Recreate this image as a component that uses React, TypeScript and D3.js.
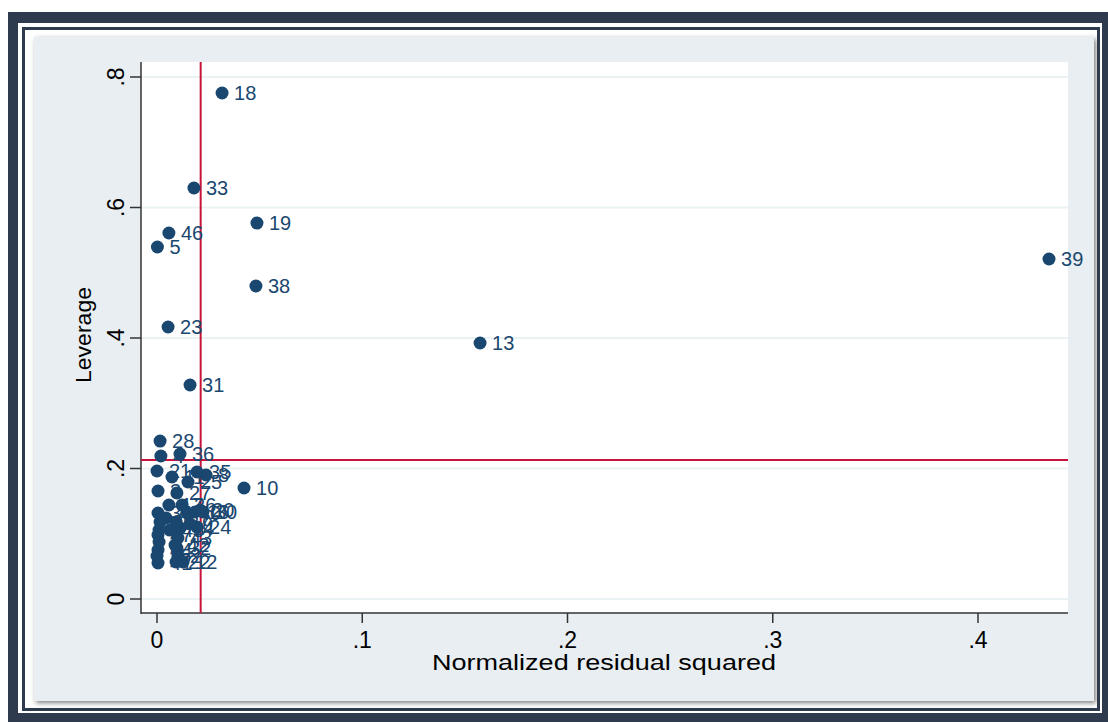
import React, { useEffect, useRef } from 'react';
import * as d3 from 'd3';

// observation numbers, normalized residual squared, leverage
const ids = [18, 33, 19, 46, 5, 39, 38, 23, 13, 31, 28, 10, 8,
  1, 2, 3, 4, 6, 7, 9, 11, 12, 14, 15, 16, 17, 20, 21, 22, 24, 25, 26, 27,
  29, 30, 32, 34, 35, 36, 37, 40, 41, 42, 43, 44, 45, 47];
const residSq = [0.0317, 0.0180, 0.0487, 0.0058, 0.0002, 0.4346, 0.0482, 0.0054, 0.1574, 0.0161, 0.0015, 0.0424, 0.0239,
  0.0010, 0.0102, 0.0005, 0.0019, 0.0044, 0.0010, 0.0161, 0.0073, 0.0127, 0.0112, 0.0000, 0.0185, 0.0058, 0.0210, 0.0000, 0.0093, 0.0195, 0.0151, 0.0122, 0.0097,
  0.0015, 0.0224, 0.0097, 0.0005, 0.0195, 0.0112, 0.0093, 0.0146, 0.0005, 0.0088, 0.0102, 0.0005, 0.0063, 0.0005];
const leverage = [0.7755, 0.6299, 0.5762, 0.5609, 0.5395, 0.5211, 0.4797, 0.4169, 0.3923, 0.3280, 0.2421, 0.1701, 0.1900,
  0.0874, 0.0659, 0.1655, 0.2192, 0.1241, 0.1057, 0.1149, 0.1870, 0.0567, 0.1088, 0.0659, 0.1333, 0.1441, 0.1364, 0.1962, 0.0567, 0.1103, 0.1793, 0.1441, 0.1625,
  0.1180, 0.1333, 0.0782, 0.1318, 0.1946, 0.2222, 0.1180, 0.1318, 0.0552, 0.0828, 0.0935, 0.0751, 0.1057, 0.0981];

const xTicks = [0, 0.1, 0.2, 0.3, 0.4];
const xTickLabels = ['0', '.1', '.2', '.3', '.4'];
const yTicks = [0, 0.2, 0.4, 0.6, 0.8];
const yTickLabels = ['0', '.2', '.4', '.6', '.8'];

const meanResid = 1 / 47;
const meanLev = 0.213;

export default function App() {
  const ref = useRef<SVGSVGElement>(null);

  useEffect(() => {
    const svg = d3.select(ref.current);
    svg.selectAll('*').remove();
    const W = 1108, H = 722;
    const navy = '#1a476f';
    const font = 'Liberation Sans, Arial, sans-serif';

    // frame
    svg.append('rect').attr('x', 8).attr('y', 12).attr('width', W - 8).attr('height', H - 12).attr('fill', '#2e3a4e');
    svg.append('rect').attr('x', 18).attr('y', 23).attr('width', 1084).attr('height', 690).attr('fill', '#fff');
    svg.append('rect').attr('x', 23.5).attr('y', 28.5).attr('width', 1075).attr('height', 681)
      .attr('fill', 'none').attr('stroke', '#2e3a4e').attr('stroke-width', 3);
    const defs = svg.append('defs');
    const f = defs.append('filter').attr('id', 'sh').attr('x', '-5%').attr('y', '-5%').attr('width', '110%').attr('height', '110%');
    f.append('feDropShadow').attr('dx', 2).attr('dy', 2).attr('stdDeviation', 2.5).attr('flood-color', '#444').attr('flood-opacity', 0.7);
    svg.append('rect').attr('x', 34).attr('y', 37).attr('width', 1060).attr('height', 664)
      .attr('fill', '#e8eef1').attr('filter', 'url(#sh)');

    const left = 141, right = 1068, top = 62, bottom = 613;
    const x = d3.scaleLinear().domain([0, 0.4]).range([157, 978]);
    const y = d3.scaleLinear().domain([0, 0.8]).range([599, 77]);

    svg.append('rect').attr('x', left).attr('y', top).attr('width', right - left).attr('height', bottom - top).attr('fill', '#fff');

    // gridlines
    svg.append('g').selectAll('line').data(yTicks).join('line')
      .attr('x1', left).attr('x2', right)
      .attr('y1', d => y(d)).attr('y2', d => y(d))
      .attr('stroke', '#eaf2f3').attr('stroke-width', 2);

    // axes
    svg.append('line').attr('x1', left).attr('x2', left).attr('y1', top).attr('y2', bottom + 1)
      .attr('stroke', '#333').attr('stroke-width', 1.5);
    svg.append('line').attr('x1', left).attr('x2', right).attr('y1', bottom).attr('y2', bottom)
      .attr('stroke', '#333').attr('stroke-width', 1.5);

    svg.append('g').selectAll('line').data(yTicks).join('line')
      .attr('x1', left - 11).attr('x2', left).attr('y1', d => y(d)).attr('y2', d => y(d))
      .attr('stroke', '#333').attr('stroke-width', 1.5);
    svg.append('g').selectAll('text').data(yTicks).join('text')
      .attr('transform', d => `translate(${left - 25},${y(d)}) rotate(-90)`)
      .attr('text-anchor', 'middle').attr('dy', '0.35em')
      .attr('font-family', font).attr('font-size', 23).attr('fill', '#000')
      .text((d, i) => yTickLabels[i]);

    svg.append('g').selectAll('line').data(xTicks).join('line')
      .attr('x1', d => x(d)).attr('x2', d => x(d)).attr('y1', bottom).attr('y2', bottom + 10)
      .attr('stroke', '#333').attr('stroke-width', 1.5);
    svg.append('g').selectAll('text').data(xTicks).join('text')
      .attr('x', d => x(d)).attr('y', 648)
      .attr('text-anchor', 'middle')
      .attr('font-family', font).attr('font-size', 23).attr('fill', '#000')
      .text((d, i) => xTickLabels[i]);

    svg.append('text').attr('x', 604).attr('y', 670).attr('text-anchor', 'middle')
      .attr('font-family', font).attr('font-size', 22).attr('fill', '#000')
      .attr('textLength', 344).attr('lengthAdjust', 'spacingAndGlyphs')
      .text('Normalized residual squared');
    svg.append('text').attr('transform', `translate(83,335) rotate(-90)`)
      .attr('text-anchor', 'middle').attr('dy', '0.35em')
      .attr('font-family', font).attr('font-size', 22).attr('fill', '#000')
      .attr('textLength', 96).attr('lengthAdjust', 'spacingAndGlyphs')
      .text('Leverage');

    // reference lines
    svg.append('line').attr('x1', x(meanResid)).attr('x2', x(meanResid)).attr('y1', top).attr('y2', bottom)
      .attr('stroke', '#c8133b').attr('stroke-width', 2);
    svg.append('line').attr('x1', left).attr('x2', right).attr('y1', y(meanLev)).attr('y2', y(meanLev))
      .attr('stroke', '#c8133b').attr('stroke-width', 2);

    // points and labels
    const pts = ids.map((id, i) => ({ id, rx: residSq[i], lv: leverage[i] }));
    svg.append('g').selectAll('circle').data(pts).join('circle')
      .attr('cx', d => x(d.rx)).attr('cy', d => y(d.lv)).attr('r', 6.5)
      .attr('fill', navy);
    svg.append('g').selectAll('text').data(pts).join('text')
      .attr('x', d => x(d.rx) + 12).attr('y', d => y(d.lv)).attr('dy', '0.36em')
      .attr('font-family', font).attr('font-size', 20).attr('fill', navy)
      .text(d => d.id);
  }, []);

  return (
    <svg ref={ref} width={1108} height={722} style={{ position: 'absolute', left: 0, top: 0 }} />
  );
}
